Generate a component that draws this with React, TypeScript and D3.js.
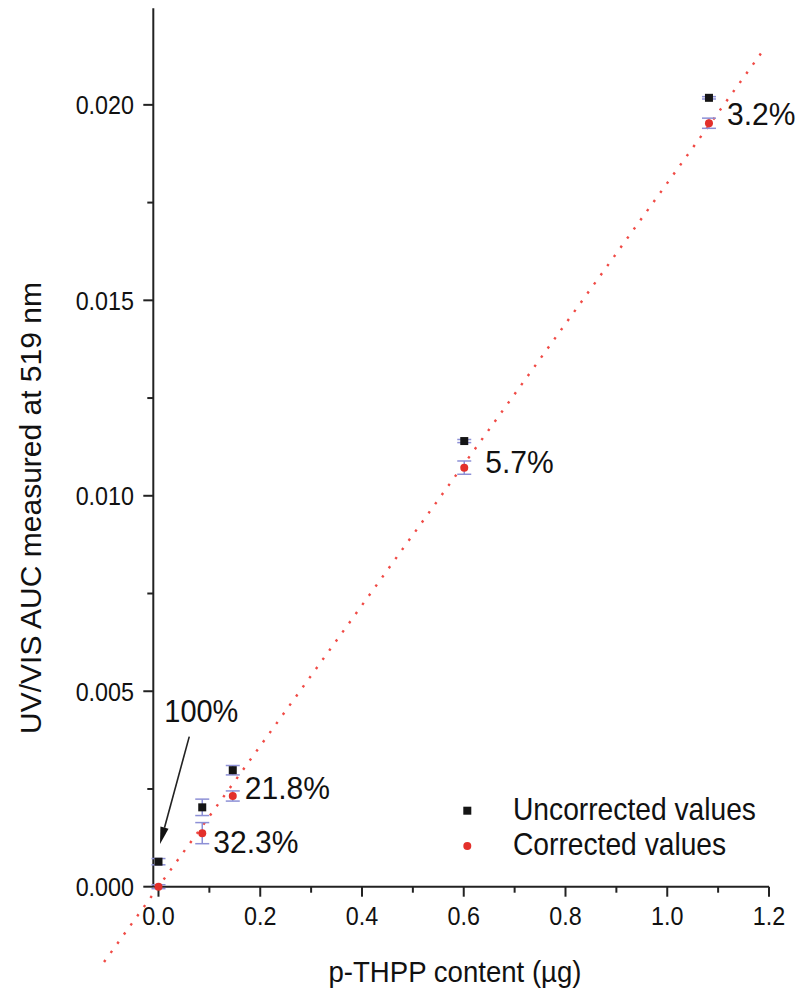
import React from "react";
import * as d3 from "d3";

// p-THPP content (µg) for each measured sample
const contents = [0, 0.086, 0.146, 0.601, 1.082];
// UV/VIS AUC at 519 nm, before correction
const uncorrected = [0.00064, 0.00203, 0.00298, 0.0114, 0.02018];
const uncorrectedErr = [0.00008, 0.00021, 0.00012, 0.00004, 0.00003];
// UV/VIS AUC at 519 nm, after correction
const corrected = [0, 0.00137, 0.00232, 0.01072, 0.01953];
const correctedErr = [0.00005, 0.00027, 0.00013, 0.00017, 0.00013];
// relative deviation of each sample
const percentLabels = ["100%", "32.3%", "21.8%", "5.7%", "3.2%"];

const xTicks = [0, 0.2, 0.4, 0.6, 0.8, 1.0, 1.2];
const xMinorTicks = [0.1, 0.3, 0.5, 0.7, 0.9, 1.1];
const yTicks = [0, 0.005, 0.01, 0.015, 0.02];
const yMinorTicks = [0.0025, 0.0075, 0.0125, 0.0175];

// linear trend through the corrected values
const fitSlope = 0.018;
const fitRange = [-0.107, 1.184];

// arrow pointing at the first sample
const arrowFrom = [0.0605, 0.00384];
const arrowTo = [0.003, 0.00109];

const W = 809;
const H = 1001;
const FONT = "'Liberation Sans', Arial, Helvetica, sans-serif";
const RED = "#e3302b";
const BLACK = "#151515";
const ERR = "#8d90d6";

// condensed text helper (horizontal squeeze applied around the anchor)
function Label({ x, y, size, sx = 0.9, anchor = "start", rotate = 0, children }: any) {
  return (
    <text
      transform={`translate(${x},${y}) rotate(${rotate}) scale(${sx},1)`}
      fontSize={size}
      fontFamily={FONT}
      textAnchor={anchor}
      fill="#111"
    >
      {children}
    </text>
  );
}

export default function App() {
  const x = d3.scaleLinear().domain([-0.0102, 1.2]).range([153.3, 769]);
  const y = d3.scaleLinear().domain([0, 0.02247]).range([886.7, 8.3]);
  const [x0, x1] = x.range();
  const [yb, yt] = y.range();

  const fmtX = d3.format(".1f");
  const fmtY = d3.format(".3f");

  // label offsets (px) relative to the corrected marker
  const labelOffsets = [
    null,
    [11, 20],
    [12, 2.5],
    [21, 5.5],
    [18, 2],
  ];

  const ax = x(arrowFrom[0]);
  const ay = y(arrowFrom[1]);
  const tx = x(arrowTo[0]);
  const ty = y(arrowTo[1]);
  const ang = Math.atan2(ty - ay, tx - ax);
  const headLen = 17;
  const headW = 4.2;
  const bx = tx - headLen * Math.cos(ang);
  const by = ty - headLen * Math.sin(ang);
  const px = -Math.sin(ang) * headW;
  const py = Math.cos(ang) * headW;

  const errBar = (cx: number, v: number, e: number, key: string) => (
    <g key={key} stroke={ERR} strokeWidth={1.5}>
      <line x1={cx} x2={cx} y1={y(v - e)} y2={y(v + e)} />
      <line x1={cx - 7} x2={cx + 7} y1={y(v - e)} y2={y(v - e)} />
      <line x1={cx - 7} x2={cx + 7} y1={y(v + e)} y2={y(v + e)} />
    </g>
  );

  return (
    <svg
      width={W}
      height={H}
      style={{ position: "absolute", left: 0, top: 0, background: "#fff" }}
    >
      <rect width={W} height={H} fill="#fff" />

      {/* trend line */}
      <line
        x1={x(fitRange[0])}
        y1={y(fitSlope * fitRange[0])}
        x2={x(fitRange[1])}
        y2={y(fitSlope * fitRange[1])}
        stroke="#f04a45"
        strokeWidth={2.4}
        strokeDasharray="2.4 8.9"
      />

      {/* axes */}
      <g stroke="#222" strokeWidth={2}>
        <line x1={x0} x2={x1} y1={yb} y2={yb} />
        <line x1={x0} x2={x0} y1={yb} y2={yt} />
        {xTicks.map((t) => (
          <line key={"xt" + t} x1={x(t)} x2={x(t)} y1={yb} y2={yb + 10} />
        ))}
        {xMinorTicks.map((t) => (
          <line key={"xm" + t} x1={x(t)} x2={x(t)} y1={yb} y2={yb + 6} />
        ))}
        {yTicks.map((t) => (
          <line key={"yt" + t} x1={x0} x2={x0 - 10} y1={y(t)} y2={y(t)} />
        ))}
        {yMinorTicks.map((t) => (
          <line key={"ym" + t} x1={x0} x2={x0 - 6} y1={y(t)} y2={y(t)} />
        ))}
      </g>

      {xTicks.map((t) => (
        <Label key={"xl" + t} x={x(t)} y={925} size={26.5} sx={0.88} anchor="middle">
          {fmtX(t)}
        </Label>
      ))}
      {yTicks.map((t) => (
        <Label key={"yl" + t} x={134} y={y(t) + 9.5} size={26.5} sx={0.88} anchor="end">
          {fmtY(t)}
        </Label>
      ))}

      <Label x={455} y={982} size={30} sx={0.92} anchor="middle">
        p-THPP content (µg)
      </Label>
      <Label x={41} y={508} size={30} sx={1.0} anchor="middle" rotate={-90}>
        UV/VIS AUC measured at 519 nm
      </Label>

      {/* error bars */}
      {contents.map((c, i) => errBar(x(c), uncorrected[i], uncorrectedErr[i], "ue" + i))}
      {contents.map((c, i) => errBar(x(c), corrected[i], correctedErr[i], "ce" + i))}

      {/* markers */}
      {contents.map((c, i) => (
        <rect
          key={"u" + i}
          x={x(c) - 4}
          y={y(uncorrected[i]) - 4}
          width={8}
          height={8}
          fill={BLACK}
        />
      ))}
      {contents.map((c, i) => (
        <circle key={"c" + i} cx={x(c)} cy={y(corrected[i])} r={4} fill={RED} />
      ))}

      {/* deviation labels */}
      {contents.map((c, i) => {
        const off = labelOffsets[i];
        if (!off) return null;
        return (
          <Label key={"pl" + i} x={x(c) + off[0]} y={y(corrected[i]) + off[1]} size={31} sx={0.97}>
            {percentLabels[i]}
          </Label>
        );
      })}

      {/* arrow annotation */}
      <line x1={ax} y1={ay} x2={bx} y2={by} stroke="#222" strokeWidth={1.6} />
      <polygon
        points={`${tx},${ty} ${bx + px},${by + py} ${bx - px},${by - py}`}
        fill="#111"
      />
      <Label x={ax - 25} y={ay - 14.5} size={30.5} sx={0.95}>
        {percentLabels[0]}
      </Label>

      {/* legend */}
      <rect x={463.3} y={806.7} width={8} height={8} fill={BLACK} />
      <circle cx={467.3} cy={846} r={4} fill={RED} />
      <Label x={513} y={820} size={31} sx={0.91}>
        Uncorrected values
      </Label>
      <Label x={513} y={855} size={31} sx={0.91}>
        Corrected values
      </Label>
    </svg>
  );
}
